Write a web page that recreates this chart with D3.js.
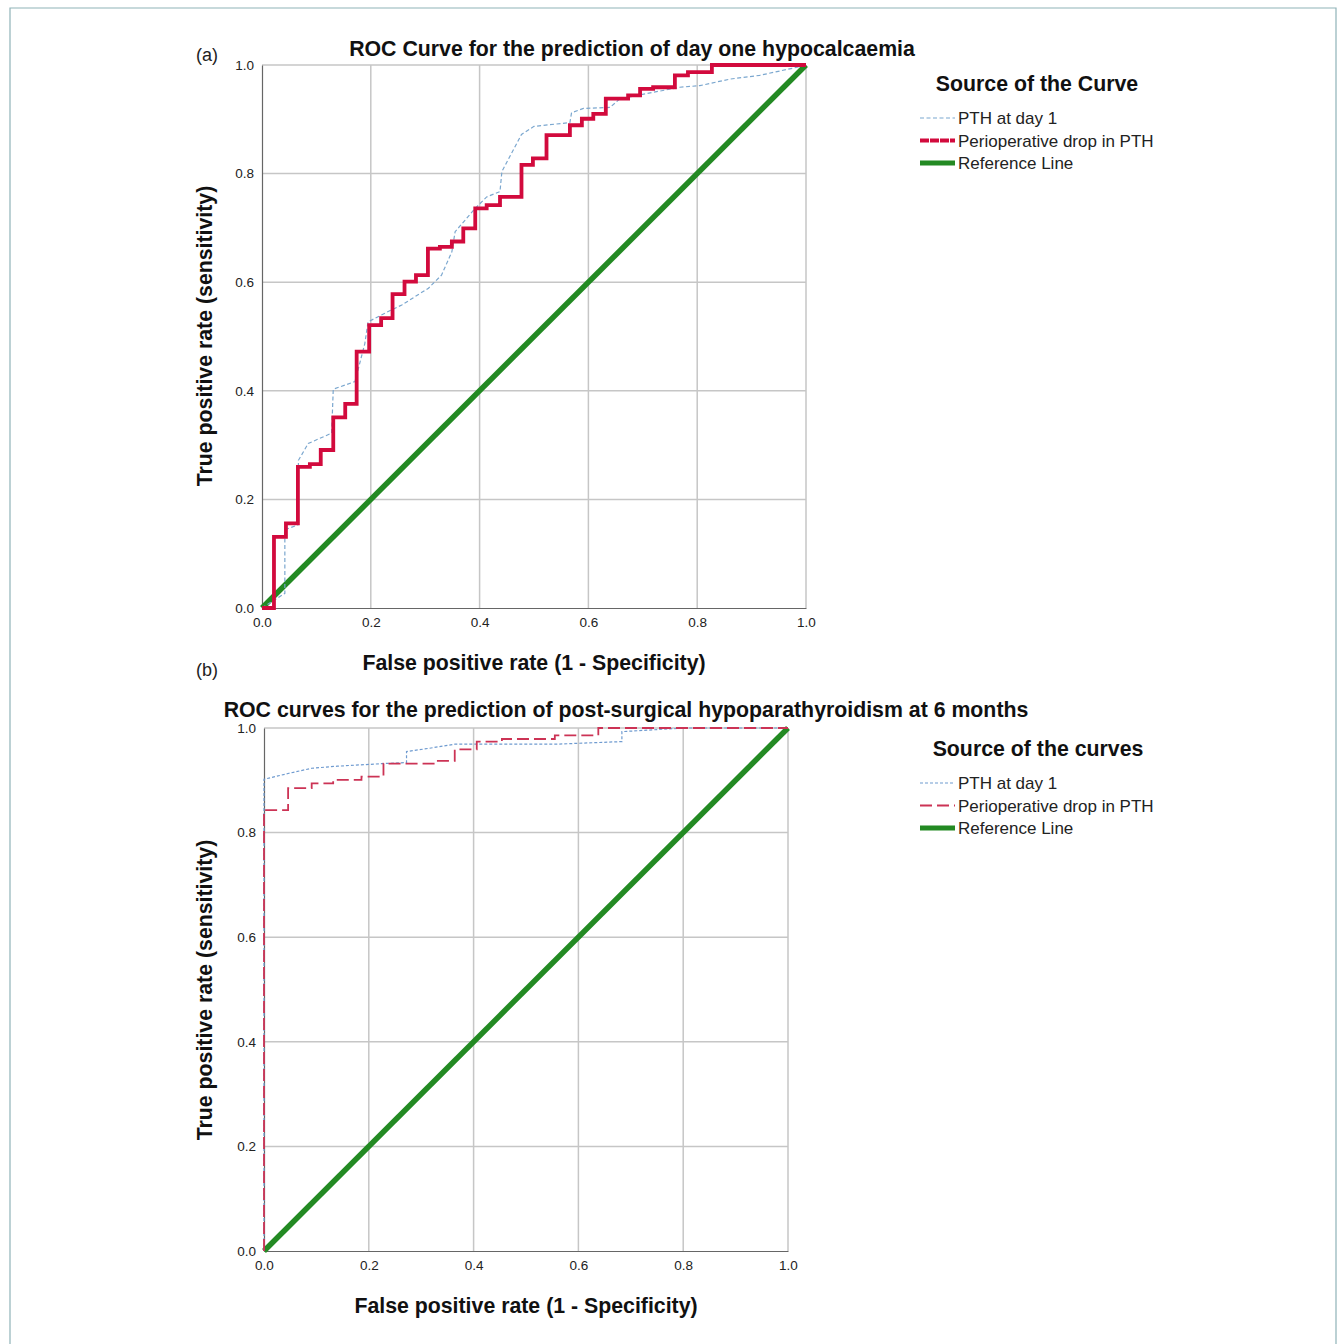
<!DOCTYPE html>
<html>
<head>
<meta charset="utf-8">
<script src="https://cdn.jsdelivr.net/npm/d3@7"></script>
<style>
  body { margin: 0; background: #fff; }
  svg { display: block; font-family: "Liberation Sans", Arial, sans-serif; }
</style>
</head>
<body>
<svg id="chart" width="1338" height="1344"></svg>
<script>
// ---- data ----
const ticks = [0, 0.2, 0.4, 0.6, 0.8, 1.0];

// (a) day one hypocalcaemia
const aPthDay1 = [[0,0],[0.042,0.027],[0.042,0.144],[0.066,0.153],[0.067,0.272],[0.085,0.303],[0.128,0.322],
  [0.131,0.403],[0.171,0.417],[0.189,0.487],[0.195,0.527],[0.232,0.546],[0.257,0.558],[0.306,0.589],
  [0.330,0.613],[0.349,0.656],[0.355,0.693],[0.392,0.736],[0.413,0.757],[0.4375,0.767],[0.441,0.804],
  [0.477,0.872],[0.500,0.887],[0.566,0.894],[0.569,0.912],[0.591,0.920],[0.640,0.922],[0.658,0.938],
  [0.768,0.959],[0.805,0.962],[0.860,0.974],[0.915,0.981],[0.989,0.997],[1,1]];
const aDropPth = [[0,0],[0.022,0.131],[0.044,0.156],[0.066,0.260],[0.088,0.265],[0.108,0.291],[0.131,0.351],
  [0.153,0.376],[0.174,0.472],[0.197,0.521],[0.219,0.534],[0.240,0.578],[0.262,0.601],[0.283,0.613],
  [0.305,0.662],[0.327,0.665],[0.349,0.675],[0.370,0.699],[0.392,0.736],[0.413,0.742],[0.4375,0.757],
  [0.477,0.816],[0.498,0.828],[0.523,0.871],[0.566,0.889],[0.588,0.901],[0.609,0.910],[0.632,0.938],
  [0.673,0.944],[0.695,0.956],[0.719,0.959],[0.759,0.981],[0.783,0.987],[0.827,1.0],[1.0,1.0]];

// (b) hypoparathyroidism at 6 months
const bPthDay1 = [[0,0],[0,0.902],[0.046,0.913],[0.091,0.923],[0.14,0.927],[0.228,0.932],[0.272,0.934],
  [0.272,0.955],[0.314,0.961],[0.364,0.969],[0.555,0.969],[0.683,0.974],[0.683,0.993],[0.8,1.0],[1,1]];
const bDropPth = [[0,0],[0,0.843],[0.046,0.885],[0.091,0.894],[0.132,0.901],[0.186,0.907],[0.228,0.932],
  [0.326,0.937],[0.364,0.959],[0.406,0.974],[0.454,0.979],[0.555,0.986],[0.638,1.0],[1,1]];

const refLine = [[0,0],[1,1]];
const legendNames = ["PTH at day 1", "Perioperative drop in PTH", "Reference Line"];

const svg = d3.select('#chart');
const bigFont = '21.3px';

// outer frame
svg.append('path')
  .attr('d', 'M10,1344 V8 H1336 V1344')
  .style('fill', 'none').style('stroke', '#8fb3b8').style('stroke-width', 1.2);

function panel(cfg) {
  const x = d3.scaleLinear().domain([0, 1]).range(cfg.xr);
  const y = d3.scaleLinear().domain([0, 1]).range(cfg.yr);
  const g = svg.append('g');

  // grid
  g.selectAll('line.vg').data(ticks.slice(1)).enter().append('line')
    .attr('x1', d => x(d)).attr('x2', d => x(d)).attr('y1', y(0)).attr('y2', y(1))
    .style('stroke', '#c6c6c6').style('stroke-width', 1.5);
  g.selectAll('line.hg').data(ticks.slice(1)).enter().append('line')
    .attr('x1', x(0)).attr('x2', x(1)).attr('y1', d => y(d)).attr('y2', d => y(d))
    .style('stroke', '#c6c6c6').style('stroke-width', 1.5);

  // axes
  const ax = g.append('g').attr('transform', `translate(0,${y(0)})`)
    .call(d3.axisBottom(x).tickValues(ticks).tickFormat(d3.format('.1f')).tickSize(0).tickPadding(9));
  const ay = g.append('g').attr('transform', `translate(${x(0)},0)`)
    .call(d3.axisLeft(y).tickValues(ticks).tickFormat(d3.format('.1f')).tickSize(0).tickPadding(8));
  [ax, ay].forEach(a => {
    a.select('.domain').style('stroke', '#666').style('stroke-width', 1.2);
    a.selectAll('text').style('font-size', '13.5px').style('fill', '#222')
      .style('font-family', '"Liberation Sans", Arial, sans-serif');
  });

  // curves
  const line = (curve) => d3.line().x(d => x(d[0])).y(d => y(d[1])).curve(curve);
  g.append('path').attr('d', line(d3.curveLinear)(refLine))
    .style('fill', 'none').style('stroke', '#238a23').style('stroke-width', 5.5);
  g.append('path').attr('d', line(d3.curveLinear)(cfg.pth))
    .style('fill', 'none').style('stroke', cfg.blue.color).style('stroke-width', cfg.blue.width)
    .style('stroke-dasharray', cfg.blue.dash);
  g.append('path').attr('d', line(d3.curveStepAfter)(cfg.drop))
    .style('fill', 'none').style('stroke', cfg.red.color).style('stroke-width', cfg.red.width)
    .style('stroke-dasharray', cfg.red.dash);

  // titles and labels
  svg.append('text').attr('x', cfg.titleX).attr('y', cfg.titleY).attr('text-anchor', 'middle')
    .style('font-size', bigFont).style('font-weight', 'bold').style('fill', '#111').text(cfg.title);
  svg.append('text').attr('x', 196).attr('y', cfg.tagY).style('font-size', '18px').style('fill', '#222').text(cfg.tag);
  svg.append('text').attr('x', cfg.xLabX).attr('y', cfg.xLabY).attr('text-anchor', 'middle')
    .style('font-size', bigFont).style('font-weight', 'bold').style('fill', '#111')
    .text('False positive rate (1 - Specificity)');
  svg.append('text').attr('transform', `translate(212,${cfg.yLabY}) rotate(-90)`).attr('text-anchor', 'middle')
    .style('font-size', bigFont).style('font-weight', 'bold').style('fill', '#111')
    .text('True positive rate (sensitivity)');

  // legend
  const lg = svg.append('g');
  lg.append('text').attr('x', cfg.legX).attr('y', cfg.legY).attr('text-anchor', 'middle')
    .style('font-size', bigFont).style('font-weight', 'bold').style('fill', '#111').text(cfg.legTitle);
  const styles = [cfg.blue, cfg.red, { color: '#238a23', width: 5, dash: null }];
  legendNames.forEach((name, i) => {
    const yy = cfg.legY + 33 + i * 22.5;
    lg.append('line').attr('x1', 920).attr('x2', 955).attr('y1', yy - 6).attr('y2', yy - 6)
      .style('stroke', styles[i].color).style('stroke-width', i === 2 ? 5 : styles[i].width)
      .style('stroke-dasharray', styles[i].legDash || styles[i].dash);
    lg.append('text').attr('x', 958).attr('y', yy).style('font-size', '17px').style('fill', '#222').text(name);
  });
}

panel({
  xr: [262, 806], yr: [608, 65],
  pth: aPthDay1, drop: aDropPth,
  blue: { color: '#7ba7cf', width: 1.2, dash: '4,2.5' },
  red: { color: '#d20a3d', width: 3.8, dash: null, legDash: '9,1' },
  title: 'ROC Curve for the prediction of day one hypocalcaemia', titleX: 632, titleY: 56,
  tag: '(a)', tagY: 61,
  xLabX: 534, xLabY: 670, yLabY: 336,
  legTitle: 'Source of the Curve', legX: 1037, legY: 91
});

panel({
  xr: [264, 788], yr: [1251, 728],
  pth: bPthDay1, drop: bDropPth,
  blue: { color: '#6f9bd0', width: 1.2, dash: '3,2' },
  red: { color: '#cc3355', width: 1.8, dash: '12,5' },
  title: 'ROC curves for the prediction of post-surgical hypoparathyroidism at 6 months', titleX: 626, titleY: 717,
  tag: '(b)', tagY: 676,
  xLabX: 526, xLabY: 1313, yLabY: 990,
  legTitle: 'Source of the curves', legX: 1038, legY: 756
});
</script>
</body>
</html>
